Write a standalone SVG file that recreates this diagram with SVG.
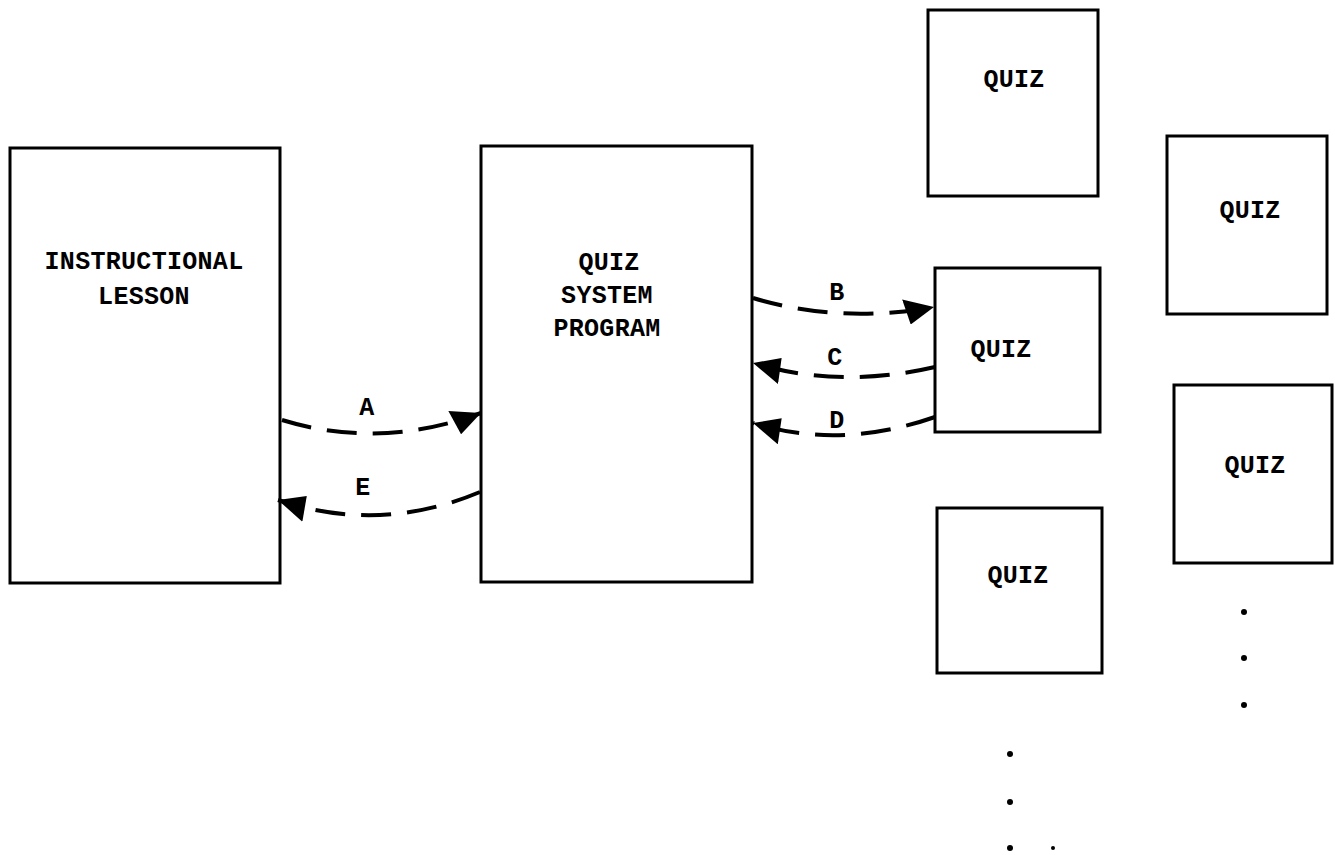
<svg xmlns="http://www.w3.org/2000/svg" width="1335" height="855" viewBox="0 0 1335 855">
<style>
.box{fill:none;stroke:#000;stroke-width:3}
.t{font-family:"Liberation Mono","DejaVu Sans Mono",monospace;font-weight:bold;font-size:25px;letter-spacing:0.3px;fill:#000;text-anchor:middle}
.c{fill:none;stroke:#000;stroke-width:4;stroke-dasharray:30 16;marker-end:url(#ah)}
.dot{fill:#000}
</style>
<defs>
<marker id="ah" markerUnits="userSpaceOnUse" markerWidth="32" markerHeight="26" refX="30" refY="13" orient="auto">
<path d="M0,0 L30,13 L4,26 Z" fill="#000"/>
</marker>
</defs>
<rect width="1335" height="855" fill="#fff"/>
<g id="lesson"><rect class="box" x="10" y="148" width="270" height="435"/><text class="t" x="144" y="269">INSTRUCTIONAL</text><text class="t" x="144" y="304">LESSON</text></g>
<g id="qsp"><rect class="box" x="481" y="146" width="271" height="436"/><text class="t" x="609" y="270">QUIZ</text><text class="t" x="607" y="303">SYSTEM</text><text class="t" x="607" y="336">PROGRAM</text></g>
<g id="quiz1"><rect class="box" x="928" y="10" width="170" height="186"/><text class="t" x="1014" y="87">QUIZ</text></g>
<g id="quiz2"><rect class="box" x="935" y="268" width="165" height="164"/><text class="t" x="1001" y="357">QUIZ</text></g>
<g id="quiz3"><rect class="box" x="937" y="508" width="165" height="165"/><text class="t" x="1018" y="583">QUIZ</text></g>
<g id="quiz4"><rect class="box" x="1167" y="136" width="160" height="178"/><text class="t" x="1250" y="218">QUIZ</text></g>
<g id="quiz5"><rect class="box" x="1174" y="385" width="158" height="178"/><text class="t" x="1255" y="473">QUIZ</text></g>
<g id="connectors">
<path class="c" d="M282,420 Q380,450 481,413"/>
<path class="c" d="M480,492 Q380,534 278,500"/>
<path class="c" d="M753,298 Q840,324 934,307"/>
<path class="c" d="M935,367 Q840,389 753,363"/>
<path class="c" d="M935,417 Q840,450 753,423"/>
</g>
<g id="labels">
<text class="t" x="367" y="415">A</text>
<text class="t" x="363" y="495">E</text>
<text class="t" x="837" y="300">B</text>
<text class="t" x="835" y="365">C</text>
<text class="t" x="837" y="428">D</text>
</g>
<g id="dots">
<circle class="dot" cx="1244" cy="612" r="3"/><circle class="dot" cx="1244" cy="658" r="3"/><circle class="dot" cx="1244" cy="705" r="3"/>
<circle class="dot" cx="1010" cy="754" r="3"/><circle class="dot" cx="1010" cy="802" r="3"/><circle class="dot" cx="1010" cy="848" r="3"/><circle class="dot" cx="1053" cy="848" r="2"/>
</g>
</svg>
